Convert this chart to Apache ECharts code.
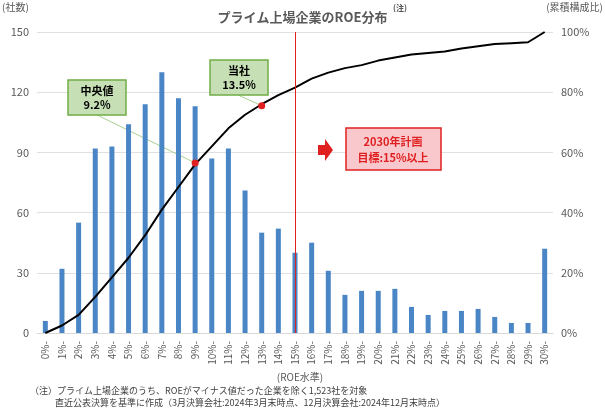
<!DOCTYPE html>
<html><head><meta charset="utf-8">
<script src="https://cdn.jsdelivr.net/npm/echarts@6/dist/echarts.min.js"></script>
<style>html,body{margin:0;padding:0;background:#fff}#c{width:605px;height:412px}</style>
</head><body><div id="c"></div>
<script>
// ROE区分
const categories = ['0%-','1%-','2%-','3%-','4%-','5%-','6%-','7%-','8%-','9%-','10%-','11%-','12%-','13%-','14%-','15%-','16%-','17%-','18%-','19%-','20%-','21%-','22%-','23%-','24%-','25%-','26%-','27%-','28%-','29%-','30%-'];
// 社数
const counts = [6,32,55,92,93,104,114,130,117,113,87,92,71,50,52,40,45,31,19,21,21,22,13,9,11,11,12,8,5,5,42];
// 累積構成比（%）
const cumulative = [0,2.5,6,12,18.5,25,32.5,41,48.5,56,62,68,72.5,76,79,81.5,84.5,86.5,88,89,90.5,91.5,92.5,93,93.5,94.5,95.3,96,96.3,96.6,100];
// 注記ポイント
const medianPt = ['9%-', 56.5];
const companyPt = ['13%-', 75.5];

const font = '"Noto Sans CJK JP", sans-serif';
const chart = echarts.init(document.getElementById('c'));
chart.setOption({
  animation: false,
  textStyle: { fontFamily: font },
  title: {
    text: 'プライム上場企業のROE分布', left: 'center', top: 6,
    textStyle: { fontSize: 13, fontWeight: 'bold', color: '#595959', fontFamily: font }
  },
  grid: { left: 37, right: 52, top: 32, bottom: 79 },
  xAxis: {
    type: 'category', data: categories,
    axisTick: { show: false },
    axisLine: { lineStyle: { color: '#d9d9d9' } },
    axisLabel: { rotate: 90, color: '#595959', fontSize: 10, margin: 8 }
  },
  yAxis: [
    { type: 'value', min: 0, max: 150, interval: 30,
      axisLabel: { color: '#595959', fontSize: 11 },
      splitLine: { lineStyle: { color: '#e0e0e0' } } },
    { type: 'value', min: 0, max: 100, interval: 20,
      axisLabel: { color: '#595959', fontSize: 11, formatter: '{value}%' },
      splitLine: { show: false } }
  ],
  series: [
    { type: 'bar', data: counts, barWidth: 5,
      itemStyle: { color: '#4a86c6' },
      markLine: { symbol: 'none', silent: true, label: { show: false },
        lineStyle: { color: '#e02020', width: 1, type: 'solid' },
        data: [[{ coord: ['15%-', 0] }, { coord: ['15%-', 150] }]] } },
    { type: 'line', yAxisIndex: 1, data: cumulative, symbol: 'none',
      lineStyle: { color: '#000', width: 2 },
      markPoint: { symbol: 'circle', symbolSize: 7, label: { show: false },
        itemStyle: { color: '#e02020' },
        data: [{ coord: medianPt }, { coord: companyPt }] } }
  ]
});

const m = chart.convertToPixel({ xAxisIndex: 0, yAxisIndex: 1 }, medianPt);
const c = chart.convertToPixel({ xAxisIndex: 0, yAxisIndex: 1 }, companyPt);
const boxText = { fill: '#000', font: 'bold 11px ' + font, textAlign: 'center', lineHeight: 14 };
chart.setOption({
  graphic: [
    { type: 'text', left: 2, top: 2, style: { text: '(社数)', fill: '#595959', font: '10px ' + font } },
    { type: 'text', right: 2, top: 2, style: { text: '(累積構成比)', fill: '#595959', font: '10px ' + font } },
    { type: 'text', x: 393, y: 4, style: { text: '(注)', fill: '#595959', font: 'bold 8px ' + font } },
    { type: 'line', shape: { x1: 97, y1: 115, x2: m[0], y2: m[1] }, style: { stroke: '#a9d18e', lineWidth: 1 } },
    { type: 'line', shape: { x1: 238, y1: 95, x2: c[0], y2: c[1] }, style: { stroke: '#a9d18e', lineWidth: 1 } },
    { type: 'rect', shape: { x: 68, y: 80, width: 58, height: 35 }, style: { fill: '#c6dfb4', stroke: '#70ad47', lineWidth: 1.5 } },
    { type: 'text', x: 97, y: 84, style: Object.assign({ text: '中央値\n9.2%' }, boxText) },
    { type: 'rect', shape: { x: 210, y: 60, width: 58, height: 35 }, style: { fill: '#c6dfb4', stroke: '#70ad47', lineWidth: 1.5 } },
    { type: 'text', x: 239, y: 64, style: Object.assign({ text: '当社\n13.5%' }, boxText) },
    { type: 'polygon', shape: { points: [[318,145],[325,145],[325,139],[333,150],[325,161],[325,155],[318,155]] }, style: { fill: '#e02020' } },
    { type: 'rect', shape: { x: 346, y: 128, width: 95, height: 42 }, style: { fill: '#f9c8cc', stroke: '#e02020', lineWidth: 1.5 } },
    { type: 'text', x: 393, y: 134, style: { text: '2030年計画\n目標:15%以上', fill: '#e02020', font: 'bold 11px ' + font, textAlign: 'center', lineHeight: 16 } },
    { type: 'text', x: 300, y: 372, style: { text: '(ROE水準)', fill: '#595959', font: '10px ' + font, textAlign: 'center' } },
    { type: 'text', x: 30, y: 386, style: { text: '（注）プライム上場企業のうち、ROEがマイナス値だった企業を除く1,523社を対象', fill: '#404040', font: '9px ' + font } },
    { type: 'text', x: 55, y: 398, style: { text: '直近公表決算を基準に作成（3月決算会社:2024年3月末時点、12月決算会社:2024年12月末時点）', fill: '#404040', font: '9px ' + font } }
  ]
});
</script></body></html>
